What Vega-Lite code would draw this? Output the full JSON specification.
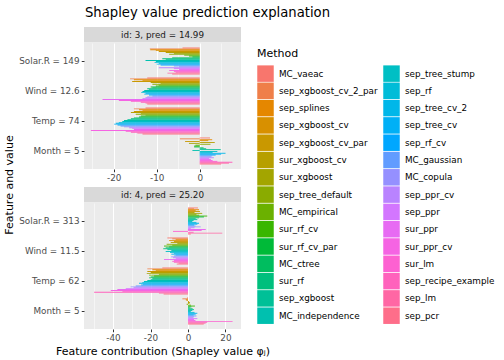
{
"$schema": "https://vega.github.io/schema/vega-lite/v6.json",
"padding": {"left": 4, "top": 5, "right": 2, "bottom": 2},
"title": {"text": "Shapley value prediction explanation", "anchor": "start", "frame": "bounds", "dx": 81, "fontSize": 13.2, "fontWeight": "normal", "color": "#000000", "offset": 7},
"config": {"font": "DejaVu Sans", "view": {"stroke": null}},
"datasets": {"shap": [
{"id":3,"feature":"Solar.R = 149","method":"MC_vaeac","phi":-4.0},
{"id":3,"feature":"Solar.R = 149","method":"sep_xgboost_cv_2_par","phi":-11.6},
{"id":3,"feature":"Solar.R = 149","method":"sep_splines","phi":-11.5},
{"id":3,"feature":"Solar.R = 149","method":"sep_xgboost_cv","phi":-10.2},
{"id":3,"feature":"Solar.R = 149","method":"sep_xgboost_cv_par","phi":-9.5},
{"id":3,"feature":"Solar.R = 149","method":"sur_xgboost_cv","phi":-7.9},
{"id":3,"feature":"Solar.R = 149","method":"sur_xgboost","phi":-6.0},
{"id":3,"feature":"Solar.R = 149","method":"sep_tree_default","phi":-7.1},
{"id":3,"feature":"Solar.R = 149","method":"MC_empirical","phi":-3.6},
{"id":3,"feature":"Solar.R = 149","method":"sur_rf_cv","phi":-2.5},
{"id":3,"feature":"Solar.R = 149","method":"sur_rf_cv_par","phi":-1.7},
{"id":3,"feature":"Solar.R = 149","method":"MC_ctree","phi":-6.4},
{"id":3,"feature":"Solar.R = 149","method":"sur_rf","phi":-8.7},
{"id":3,"feature":"Solar.R = 149","method":"sep_xgboost","phi":-7.9},
{"id":3,"feature":"Solar.R = 149","method":"MC_independence","phi":-12.6},
{"id":3,"feature":"Solar.R = 149","method":"sep_tree_stump","phi":-10.2},
{"id":3,"feature":"Solar.R = 149","method":"sep_rf","phi":-10.5},
{"id":3,"feature":"Solar.R = 149","method":"sep_tree_cv_2","phi":-9.5},
{"id":3,"feature":"Solar.R = 149","method":"sep_tree_cv","phi":-10.0},
{"id":3,"feature":"Solar.R = 149","method":"sep_rf_cv","phi":-9.1},
{"id":3,"feature":"Solar.R = 149","method":"MC_gaussian","phi":-6.0},
{"id":3,"feature":"Solar.R = 149","method":"MC_copula","phi":-4.8},
{"id":3,"feature":"Solar.R = 149","method":"sep_ppr_cv","phi":-9.5},
{"id":3,"feature":"Solar.R = 149","method":"sep_ppr","phi":-6.0},
{"id":3,"feature":"Solar.R = 149","method":"sur_ppr","phi":-4.8},
{"id":3,"feature":"Solar.R = 149","method":"sur_ppr_cv","phi":-7.1},
{"id":3,"feature":"Solar.R = 149","method":"sur_lm","phi":-6.0},
{"id":3,"feature":"Solar.R = 149","method":"sep_recipe_example","phi":-5.6},
{"id":3,"feature":"Solar.R = 149","method":"sep_lm","phi":-7.5},
{"id":3,"feature":"Solar.R = 149","method":"sep_pcr","phi":-6.4},
{"id":3,"feature":"Wind = 12.6","method":"MC_vaeac","phi":-12.2},
{"id":3,"feature":"Wind = 12.6","method":"sep_xgboost_cv_2_par","phi":-16.2},
{"id":3,"feature":"Wind = 12.6","method":"sep_splines","phi":-15.3},
{"id":3,"feature":"Wind = 12.6","method":"sep_xgboost_cv","phi":-13.3},
{"id":3,"feature":"Wind = 12.6","method":"sep_xgboost_cv_par","phi":-15.7},
{"id":3,"feature":"Wind = 12.6","method":"sur_xgboost_cv","phi":-11.4},
{"id":3,"feature":"Wind = 12.6","method":"sur_xgboost","phi":-9.1},
{"id":3,"feature":"Wind = 12.6","method":"sep_tree_default","phi":-11.0},
{"id":3,"feature":"Wind = 12.6","method":"MC_empirical","phi":-9.5},
{"id":3,"feature":"Wind = 12.6","method":"sur_rf_cv","phi":-10.2},
{"id":3,"feature":"Wind = 12.6","method":"sur_rf_cv_par","phi":-11.4},
{"id":3,"feature":"Wind = 12.6","method":"MC_ctree","phi":-11.0},
{"id":3,"feature":"Wind = 12.6","method":"sur_rf","phi":-12.2},
{"id":3,"feature":"Wind = 12.6","method":"sep_xgboost","phi":-11.8},
{"id":3,"feature":"Wind = 12.6","method":"MC_independence","phi":-12.9},
{"id":3,"feature":"Wind = 12.6","method":"sep_tree_stump","phi":-13.3},
{"id":3,"feature":"Wind = 12.6","method":"sep_rf","phi":-13.6},
{"id":3,"feature":"Wind = 12.6","method":"sep_tree_cv_2","phi":-12.6},
{"id":3,"feature":"Wind = 12.6","method":"sep_tree_cv","phi":-12.9},
{"id":3,"feature":"Wind = 12.6","method":"sep_rf_cv","phi":-11.8},
{"id":3,"feature":"Wind = 12.6","method":"MC_gaussian","phi":-11.0},
{"id":3,"feature":"Wind = 12.6","method":"MC_copula","phi":-12.2},
{"id":3,"feature":"Wind = 12.6","method":"sep_ppr_cv","phi":-12.6},
{"id":3,"feature":"Wind = 12.6","method":"sep_ppr","phi":-13.3},
{"id":3,"feature":"Wind = 12.6","method":"sur_ppr","phi":-22.6},
{"id":3,"feature":"Wind = 12.6","method":"sur_ppr_cv","phi":-18.8},
{"id":3,"feature":"Wind = 12.6","method":"sur_lm","phi":-16.0},
{"id":3,"feature":"Wind = 12.6","method":"sep_recipe_example","phi":-13.7},
{"id":3,"feature":"Wind = 12.6","method":"sep_lm","phi":-12.6},
{"id":3,"feature":"Wind = 12.6","method":"sep_pcr","phi":-12.2},
{"id":3,"feature":"Temp = 74","method":"MC_vaeac","phi":-12.6},
{"id":3,"feature":"Temp = 74","method":"sep_xgboost_cv_2_par","phi":-15.3},
{"id":3,"feature":"Temp = 74","method":"sep_splines","phi":-14.1},
{"id":3,"feature":"Temp = 74","method":"sep_xgboost_cv","phi":-13.3},
{"id":3,"feature":"Temp = 74","method":"sep_xgboost_cv_par","phi":-15.3},
{"id":3,"feature":"Temp = 74","method":"sur_xgboost_cv","phi":-16.0},
{"id":3,"feature":"Temp = 74","method":"sur_xgboost","phi":-13.7},
{"id":3,"feature":"Temp = 74","method":"sep_tree_default","phi":-14.9},
{"id":3,"feature":"Temp = 74","method":"MC_empirical","phi":-12.6},
{"id":3,"feature":"Temp = 74","method":"sur_rf_cv","phi":-13.7},
{"id":3,"feature":"Temp = 74","method":"sur_rf_cv_par","phi":-14.1},
{"id":3,"feature":"Temp = 74","method":"MC_ctree","phi":-15.3},
{"id":3,"feature":"Temp = 74","method":"sur_rf","phi":-16.0},
{"id":3,"feature":"Temp = 74","method":"sep_xgboost","phi":-16.8},
{"id":3,"feature":"Temp = 74","method":"MC_independence","phi":-17.6},
{"id":3,"feature":"Temp = 74","method":"sep_tree_stump","phi":-18.0},
{"id":3,"feature":"Temp = 74","method":"sep_rf","phi":-18.8},
{"id":3,"feature":"Temp = 74","method":"sep_tree_cv_2","phi":-19.5},
{"id":3,"feature":"Temp = 74","method":"sep_tree_cv","phi":-19.9},
{"id":3,"feature":"Temp = 74","method":"sep_rf_cv","phi":-19.1},
{"id":3,"feature":"Temp = 74","method":"MC_gaussian","phi":-18.4},
{"id":3,"feature":"Temp = 74","method":"MC_copula","phi":-17.6},
{"id":3,"feature":"Temp = 74","method":"sep_ppr_cv","phi":-16.4},
{"id":3,"feature":"Temp = 74","method":"sep_ppr","phi":-15.7},
{"id":3,"feature":"Temp = 74","method":"sur_ppr","phi":-15.3},
{"id":3,"feature":"Temp = 74","method":"sur_ppr_cv","phi":-25.3},
{"id":3,"feature":"Temp = 74","method":"sur_lm","phi":-17.2},
{"id":3,"feature":"Temp = 74","method":"sep_recipe_example","phi":-16.0},
{"id":3,"feature":"Temp = 74","method":"sep_lm","phi":-14.5},
{"id":3,"feature":"Temp = 74","method":"sep_pcr","phi":-13.3},
{"id":3,"feature":"Month = 5","method":"MC_vaeac","phi":2.4},
{"id":3,"feature":"Month = 5","method":"sep_xgboost_cv_2_par","phi":-4.6},
{"id":3,"feature":"Month = 5","method":"sep_splines","phi":2.9},
{"id":3,"feature":"Month = 5","method":"sep_xgboost_cv","phi":2.0},
{"id":3,"feature":"Month = 5","method":"sep_xgboost_cv_par","phi":-3.4},
{"id":3,"feature":"Month = 5","method":"sur_xgboost_cv","phi":3.5},
{"id":3,"feature":"Month = 5","method":"sur_xgboost","phi":-2.5},
{"id":3,"feature":"Month = 5","method":"sep_tree_default","phi":2.5},
{"id":3,"feature":"Month = 5","method":"MC_empirical","phi":-1.0},
{"id":3,"feature":"Month = 5","method":"sur_rf_cv","phi":-1.3},
{"id":3,"feature":"Month = 5","method":"sur_rf_cv_par","phi":-1.3},
{"id":3,"feature":"Month = 5","method":"MC_ctree","phi":0.9},
{"id":3,"feature":"Month = 5","method":"sur_rf","phi":1.5},
{"id":3,"feature":"Month = 5","method":"sep_xgboost","phi":4.9},
{"id":3,"feature":"Month = 5","method":"MC_independence","phi":-1.7},
{"id":3,"feature":"Month = 5","method":"sep_tree_stump","phi":4.1},
{"id":3,"feature":"Month = 5","method":"sep_rf","phi":3.0},
{"id":3,"feature":"Month = 5","method":"sep_tree_cv_2","phi":6.0},
{"id":3,"feature":"Month = 5","method":"sep_tree_cv","phi":5.0},
{"id":3,"feature":"Month = 5","method":"sep_rf_cv","phi":3.7},
{"id":3,"feature":"Month = 5","method":"MC_gaussian","phi":2.9},
{"id":3,"feature":"Month = 5","method":"MC_copula","phi":2.6},
{"id":3,"feature":"Month = 5","method":"sep_ppr_cv","phi":3.3},
{"id":3,"feature":"Month = 5","method":"sep_ppr","phi":2.2},
{"id":3,"feature":"Month = 5","method":"sur_ppr","phi":2.6},
{"id":3,"feature":"Month = 5","method":"sur_ppr_cv","phi":3.0},
{"id":3,"feature":"Month = 5","method":"sur_lm","phi":4.1},
{"id":3,"feature":"Month = 5","method":"sep_recipe_example","phi":7.6},
{"id":3,"feature":"Month = 5","method":"sep_lm","phi":6.8},
{"id":3,"feature":"Month = 5","method":"sep_pcr","phi":5.0},
{"id":4,"feature":"Solar.R = 313","method":"MC_vaeac","phi":5.3},
{"id":4,"feature":"Solar.R = 313","method":"sep_xgboost_cv_2_par","phi":3.2},
{"id":4,"feature":"Solar.R = 313","method":"sep_splines","phi":5.9},
{"id":4,"feature":"Solar.R = 313","method":"sep_xgboost_cv","phi":4.1},
{"id":4,"feature":"Solar.R = 313","method":"sep_xgboost_cv_par","phi":6.4},
{"id":4,"feature":"Solar.R = 313","method":"sur_xgboost_cv","phi":3.5},
{"id":4,"feature":"Solar.R = 313","method":"sur_xgboost","phi":7.6},
{"id":4,"feature":"Solar.R = 313","method":"sep_tree_default","phi":4.5},
{"id":4,"feature":"Solar.R = 313","method":"MC_empirical","phi":6.0},
{"id":4,"feature":"Solar.R = 313","method":"sur_rf_cv","phi":10.3},
{"id":4,"feature":"Solar.R = 313","method":"sur_rf_cv_par","phi":8.5},
{"id":4,"feature":"Solar.R = 313","method":"MC_ctree","phi":5.9},
{"id":4,"feature":"Solar.R = 313","method":"sur_rf","phi":4.1},
{"id":4,"feature":"Solar.R = 313","method":"sep_xgboost","phi":5.0},
{"id":4,"feature":"Solar.R = 313","method":"MC_independence","phi":3.0},
{"id":4,"feature":"Solar.R = 313","method":"sep_tree_stump","phi":2.3},
{"id":4,"feature":"Solar.R = 313","method":"sep_rf","phi":4.5},
{"id":4,"feature":"Solar.R = 313","method":"sep_tree_cv_2","phi":5.9},
{"id":4,"feature":"Solar.R = 313","method":"sep_tree_cv","phi":5.0},
{"id":4,"feature":"Solar.R = 313","method":"sep_rf_cv","phi":3.2},
{"id":4,"feature":"Solar.R = 313","method":"MC_gaussian","phi":4.0},
{"id":4,"feature":"Solar.R = 313","method":"MC_copula","phi":6.8},
{"id":4,"feature":"Solar.R = 313","method":"sep_ppr_cv","phi":3.5},
{"id":4,"feature":"Solar.R = 313","method":"sep_ppr","phi":1.5},
{"id":4,"feature":"Solar.R = 313","method":"sur_ppr","phi":9.5},
{"id":4,"feature":"Solar.R = 313","method":"sur_ppr_cv","phi":7.3},
{"id":4,"feature":"Solar.R = 313","method":"sur_lm","phi":-8.0},
{"id":4,"feature":"Solar.R = 313","method":"sep_recipe_example","phi":3.0},
{"id":4,"feature":"Solar.R = 313","method":"sep_lm","phi":18.3},
{"id":4,"feature":"Solar.R = 313","method":"sep_pcr","phi":1.5},
{"id":4,"feature":"Wind = 11.5","method":"MC_vaeac","phi":-11.0},
{"id":4,"feature":"Wind = 11.5","method":"sep_xgboost_cv_2_par","phi":-8.4},
{"id":4,"feature":"Wind = 11.5","method":"sep_splines","phi":-6.6},
{"id":4,"feature":"Wind = 11.5","method":"sep_xgboost_cv","phi":-10.1},
{"id":4,"feature":"Wind = 11.5","method":"sep_xgboost_cv_par","phi":-7.5},
{"id":4,"feature":"Wind = 11.5","method":"sur_xgboost_cv","phi":-9.2},
{"id":4,"feature":"Wind = 11.5","method":"sur_xgboost","phi":-5.7},
{"id":4,"feature":"Wind = 11.5","method":"sep_tree_default","phi":-11.4},
{"id":4,"feature":"Wind = 11.5","method":"MC_empirical","phi":-8.4},
{"id":4,"feature":"Wind = 11.5","method":"sur_rf_cv","phi":-12.8},
{"id":4,"feature":"Wind = 11.5","method":"sur_rf_cv_par","phi":-10.1},
{"id":4,"feature":"Wind = 11.5","method":"MC_ctree","phi":-11.9},
{"id":4,"feature":"Wind = 11.5","method":"sur_rf","phi":-13.2},
{"id":4,"feature":"Wind = 11.5","method":"sep_xgboost","phi":-11.0},
{"id":4,"feature":"Wind = 11.5","method":"MC_independence","phi":-8.9},
{"id":4,"feature":"Wind = 11.5","method":"sep_tree_stump","phi":-11.9},
{"id":4,"feature":"Wind = 11.5","method":"sep_rf","phi":-9.6},
{"id":4,"feature":"Wind = 11.5","method":"sep_tree_cv_2","phi":-7.5},
{"id":4,"feature":"Wind = 11.5","method":"sep_tree_cv","phi":-8.9},
{"id":4,"feature":"Wind = 11.5","method":"sep_rf_cv","phi":-6.6},
{"id":4,"feature":"Wind = 11.5","method":"MC_gaussian","phi":-7.5},
{"id":4,"feature":"Wind = 11.5","method":"MC_copula","phi":-9.0},
{"id":4,"feature":"Wind = 11.5","method":"sep_ppr_cv","phi":-8.0},
{"id":4,"feature":"Wind = 11.5","method":"sep_ppr","phi":-6.5},
{"id":4,"feature":"Wind = 11.5","method":"sur_ppr","phi":-12.8},
{"id":4,"feature":"Wind = 11.5","method":"sur_ppr_cv","phi":-7.5},
{"id":4,"feature":"Wind = 11.5","method":"sur_lm","phi":-8.4},
{"id":4,"feature":"Wind = 11.5","method":"sep_recipe_example","phi":-7.5},
{"id":4,"feature":"Wind = 11.5","method":"sep_lm","phi":-5.0},
{"id":4,"feature":"Wind = 11.5","method":"sep_pcr","phi":-6.0},
{"id":4,"feature":"Temp = 62","method":"MC_vaeac","phi":-13.7},
{"id":4,"feature":"Temp = 62","method":"sep_xgboost_cv_2_par","phi":-21.7},
{"id":4,"feature":"Temp = 62","method":"sep_splines","phi":-19.0},
{"id":4,"feature":"Temp = 62","method":"sep_xgboost_cv","phi":-17.2},
{"id":4,"feature":"Temp = 62","method":"sep_xgboost_cv_par","phi":-21.7},
{"id":4,"feature":"Temp = 62","method":"sur_xgboost_cv","phi":-19.9},
{"id":4,"feature":"Temp = 62","method":"sur_xgboost","phi":-22.0},
{"id":4,"feature":"Temp = 62","method":"sep_tree_default","phi":-15.5},
{"id":4,"feature":"Temp = 62","method":"MC_empirical","phi":-20.8},
{"id":4,"feature":"Temp = 62","method":"sur_rf_cv","phi":-18.1},
{"id":4,"feature":"Temp = 62","method":"sur_rf_cv_par","phi":-19.9},
{"id":4,"feature":"Temp = 62","method":"MC_ctree","phi":-20.8},
{"id":4,"feature":"Temp = 62","method":"sur_rf","phi":-19.0},
{"id":4,"feature":"Temp = 62","method":"sep_xgboost","phi":-19.9},
{"id":4,"feature":"Temp = 62","method":"MC_independence","phi":-21.7},
{"id":4,"feature":"Temp = 62","method":"sep_tree_stump","phi":-23.5},
{"id":4,"feature":"Temp = 62","method":"sep_rf","phi":-24.4},
{"id":4,"feature":"Temp = 62","method":"sep_tree_cv_2","phi":-26.1},
{"id":4,"feature":"Temp = 62","method":"sep_tree_cv","phi":-24.0},
{"id":4,"feature":"Temp = 62","method":"sep_rf_cv","phi":-25.0},
{"id":4,"feature":"Temp = 62","method":"MC_gaussian","phi":-27.9},
{"id":4,"feature":"Temp = 62","method":"MC_copula","phi":-30.6},
{"id":4,"feature":"Temp = 62","method":"sep_ppr_cv","phi":-29.0},
{"id":4,"feature":"Temp = 62","method":"sep_ppr","phi":-33.2},
{"id":4,"feature":"Temp = 62","method":"sur_ppr","phi":-37.7},
{"id":4,"feature":"Temp = 62","method":"sur_ppr_cv","phi":-41.2},
{"id":4,"feature":"Temp = 62","method":"sur_lm","phi":-35.0},
{"id":4,"feature":"Temp = 62","method":"sep_recipe_example","phi":-50.1},
{"id":4,"feature":"Temp = 62","method":"sep_lm","phi":-15.5},
{"id":4,"feature":"Temp = 62","method":"sep_pcr","phi":-13.0},
{"id":4,"feature":"Month = 5","method":"MC_vaeac","phi":-0.5},
{"id":4,"feature":"Month = 5","method":"sep_xgboost_cv_2_par","phi":-3.0},
{"id":4,"feature":"Month = 5","method":"sep_splines","phi":-1.2},
{"id":4,"feature":"Month = 5","method":"sep_xgboost_cv","phi":-0.8},
{"id":4,"feature":"Month = 5","method":"sep_xgboost_cv_par","phi":0.5},
{"id":4,"feature":"Month = 5","method":"sur_xgboost_cv","phi":1.0},
{"id":4,"feature":"Month = 5","method":"sur_xgboost","phi":0.8},
{"id":4,"feature":"Month = 5","method":"sep_tree_default","phi":-0.7},
{"id":4,"feature":"Month = 5","method":"MC_empirical","phi":1.6},
{"id":4,"feature":"Month = 5","method":"sur_rf_cv","phi":3.7},
{"id":4,"feature":"Month = 5","method":"sur_rf_cv_par","phi":1.8},
{"id":4,"feature":"Month = 5","method":"MC_ctree","phi":0.9},
{"id":4,"feature":"Month = 5","method":"sur_rf","phi":2.5},
{"id":4,"feature":"Month = 5","method":"sep_xgboost","phi":3.2},
{"id":4,"feature":"Month = 5","method":"MC_independence","phi":2.3},
{"id":4,"feature":"Month = 5","method":"sep_tree_stump","phi":1.5},
{"id":4,"feature":"Month = 5","method":"sep_rf","phi":3.5},
{"id":4,"feature":"Month = 5","method":"sep_tree_cv_2","phi":5.0},
{"id":4,"feature":"Month = 5","method":"sep_tree_cv","phi":4.1},
{"id":4,"feature":"Month = 5","method":"sep_rf_cv","phi":3.0},
{"id":4,"feature":"Month = 5","method":"MC_gaussian","phi":4.5},
{"id":4,"feature":"Month = 5","method":"MC_copula","phi":3.2},
{"id":4,"feature":"Month = 5","method":"sep_ppr_cv","phi":2.8},
{"id":4,"feature":"Month = 5","method":"sep_ppr","phi":5.0},
{"id":4,"feature":"Month = 5","method":"sur_ppr","phi":3.2},
{"id":4,"feature":"Month = 5","method":"sur_ppr_cv","phi":4.0},
{"id":4,"feature":"Month = 5","method":"sur_lm","phi":23.8},
{"id":4,"feature":"Month = 5","method":"sep_recipe_example","phi":10.3},
{"id":4,"feature":"Month = 5","method":"sep_lm","phi":9.4},
{"id":4,"feature":"Month = 5","method":"sep_pcr","phi":8.4}
]},
"hconcat": [
 {"width": 12, "height": 316, "data": {"values": [{"t": "Feature and value"}]},
  "mark": {"type": "text", "angle": 270, "fontSize": 11, "color": "#000000", "baseline": "middle", "align": "center"},
  "encoding": {"text": {"field": "t"}}},
 {"vconcat": [
  {"vconcat": [
   {"width": 157, "height": 15.5, "view": {"fill": "#D9D9D9", "stroke": null},
    "data": {"values": [{"label": "id: 3, pred = 14.99"}]},
    "mark": {"type": "text", "fontSize": 8.8, "color": "#1A1A1A", "baseline": "middle"},
    "encoding": {"text": {"field": "label"}}},
   {"width": 157, "height": 126, "view": {"fill": "#EBEBEB", "stroke": null},
    "data": {"name": "shap"},
    "transform": [{"filter": "datum.id === 3"}],
    "mark": {"type": "bar"},
    "encoding": {
     "y": {"field": "feature", "type": "nominal", "sort": ["Solar.R = 149", "Wind = 12.6", "Temp = 74", "Month = 5"],
           "scale": {"paddingInner": 0.1, "paddingOuter": 0.15},
           "axis": {"title": null, "domain": false, "tickSize": 2.75, "tickColor": "#333333", "labelColor": "#4D4D4D", "labelFontSize": 8.8, "labelPadding": 2.2, "gridColor": "#FFFFFF", "gridWidth": 1.07, "bandPosition": 0.5}},
     "x": {"field": "phi", "type": "quantitative", "scale": {"domain": [-26.9, 9.6], "nice": false, "zero": false},
           "axis": {"title": null, "values": [-25, -20, -15, -10, -5, 0, 5], "labelExpr": "datum.value % 10 === 0 ? '' + datum.value : ''", "domain": false, "tickSize": 2.75, "tickColor": "#333333", "tickOpacity": {"condition": {"test": "datum.value % 10 !== 0", "value": 0}, "value": 1}, "gridColor": "#FFFFFF", "gridWidth": {"condition": {"test": "datum.value % 10 === 0", "value": 1.07}, "value": 0.53}, "labelColor": "#4D4D4D", "labelFontSize": 8.8, "labelPadding": 1.5, "labelOverlap": false, "labelFlush": false}},
     "yOffset": {"field": "method", "type": "nominal", "sort": ["MC_vaeac","sep_xgboost_cv_2_par","sep_splines","sep_xgboost_cv","sep_xgboost_cv_par","sur_xgboost_cv","sur_xgboost","sep_tree_default","MC_empirical","sur_rf_cv","sur_rf_cv_par","MC_ctree","sur_rf","sep_xgboost","MC_independence","sep_tree_stump","sep_rf","sep_tree_cv_2","sep_tree_cv","sep_rf_cv","MC_gaussian","MC_copula","sep_ppr_cv","sep_ppr","sur_ppr","sur_ppr_cv","sur_lm","sep_recipe_example","sep_lm","sep_pcr"], "scale": {"paddingInner": 0, "paddingOuter": 0}},
     "color": {"field": "method", "type": "nominal",
       "scale": {"domain": ["MC_vaeac","sep_xgboost_cv_2_par","sep_splines","sep_xgboost_cv","sep_xgboost_cv_par","sur_xgboost_cv","sur_xgboost","sep_tree_default","MC_empirical","sur_rf_cv","sur_rf_cv_par","MC_ctree","sur_rf","sep_xgboost","MC_independence","sep_tree_stump","sep_rf","sep_tree_cv_2","sep_tree_cv","sep_rf_cv","MC_gaussian","MC_copula","sep_ppr_cv","sep_ppr","sur_ppr","sur_ppr_cv","sur_lm","sep_recipe_example","sep_lm","sep_pcr"],
                 "range": ["#F8766D","#EF7F49","#E58700","#D89000","#C99800","#B79F00","#A3A500","#8AAB00","#6BB100","#39B600","#00BA38","#00BD5F","#00BF7D","#00C097","#00C0AF","#00BFC4","#00BCD8","#00B7E9","#00B0F6","#00A7FF","#619CFF","#9590FF","#B983FF","#D376FF","#E76BF3","#F564E3","#FD61D1","#FF62BC","#FF67A4","#FE6E8A"]},
       "legend": {"title": "Method", "orient": "none", "legendX": 253, "legendY": 21, "columns": 2,
                  "symbolType": "square", "symbolSize": 272, "symbolStrokeWidth": 0, "symbolOpacity": 1,
                  "labelFontSize": 8.8, "labelColor": "#000000", "labelOffset": 5, "labelLimit": 300,
                  "titleFontSize": 11, "titleFontWeight": "normal", "titleColor": "#000000", "titlePadding": 6,
                  "rowPadding": 0.3, "columnPadding": 5}}
    }}
  ], "spacing": 0},
  {"vconcat": [
   {"width": 157, "height": 15.5, "view": {"fill": "#D9D9D9", "stroke": null},
    "data": {"values": [{"label": "id: 4, pred = 25.20"}]},
    "mark": {"type": "text", "fontSize": 8.8, "color": "#1A1A1A", "baseline": "middle"},
    "encoding": {"text": {"field": "label"}}},
   {"width": 157, "height": 126, "view": {"fill": "#EBEBEB", "stroke": null},
    "data": {"name": "shap"},
    "transform": [{"filter": "datum.id === 4"}],
    "mark": {"type": "bar"},
    "encoding": {
     "y": {"field": "feature", "type": "nominal", "sort": ["Solar.R = 313", "Wind = 11.5", "Temp = 62", "Month = 5"],
           "scale": {"paddingInner": 0.1, "paddingOuter": 0.15},
           "axis": {"title": null, "domain": false, "tickSize": 2.75, "tickColor": "#333333", "labelColor": "#4D4D4D", "labelFontSize": 8.8, "labelPadding": 2.2, "gridColor": "#FFFFFF", "gridWidth": 1.07, "bandPosition": 0.5}},
     "x": {"field": "phi", "type": "quantitative", "scale": {"domain": [-55.5, 28.3], "nice": false, "zero": false},
           "axis": {"title": "Feature contribution (Shapley value φⱼ)", "titleFontSize": 11, "titleFontWeight": "normal", "titleColor": "#000000", "titlePadding": 3, "values": [-50, -40, -30, -20, -10, 0, 10, 20], "labelExpr": "datum.value % 20 === 0 ? '' + datum.value : ''", "domain": false, "tickSize": 2.75, "tickColor": "#333333", "tickOpacity": {"condition": {"test": "datum.value % 20 !== 0", "value": 0}, "value": 1}, "gridColor": "#FFFFFF", "gridWidth": {"condition": {"test": "datum.value % 20 === 0", "value": 1.07}, "value": 0.53}, "labelColor": "#4D4D4D", "labelFontSize": 8.8, "labelPadding": 1.5, "labelOverlap": false, "labelFlush": false}},
     "yOffset": {"field": "method", "type": "nominal", "sort": ["MC_vaeac","sep_xgboost_cv_2_par","sep_splines","sep_xgboost_cv","sep_xgboost_cv_par","sur_xgboost_cv","sur_xgboost","sep_tree_default","MC_empirical","sur_rf_cv","sur_rf_cv_par","MC_ctree","sur_rf","sep_xgboost","MC_independence","sep_tree_stump","sep_rf","sep_tree_cv_2","sep_tree_cv","sep_rf_cv","MC_gaussian","MC_copula","sep_ppr_cv","sep_ppr","sur_ppr","sur_ppr_cv","sur_lm","sep_recipe_example","sep_lm","sep_pcr"], "scale": {"paddingInner": 0, "paddingOuter": 0}},
     "color": {"field": "method", "type": "nominal"}
    }}
  ], "spacing": 0}
 ], "spacing": 4}
],
"spacing": 2
}
